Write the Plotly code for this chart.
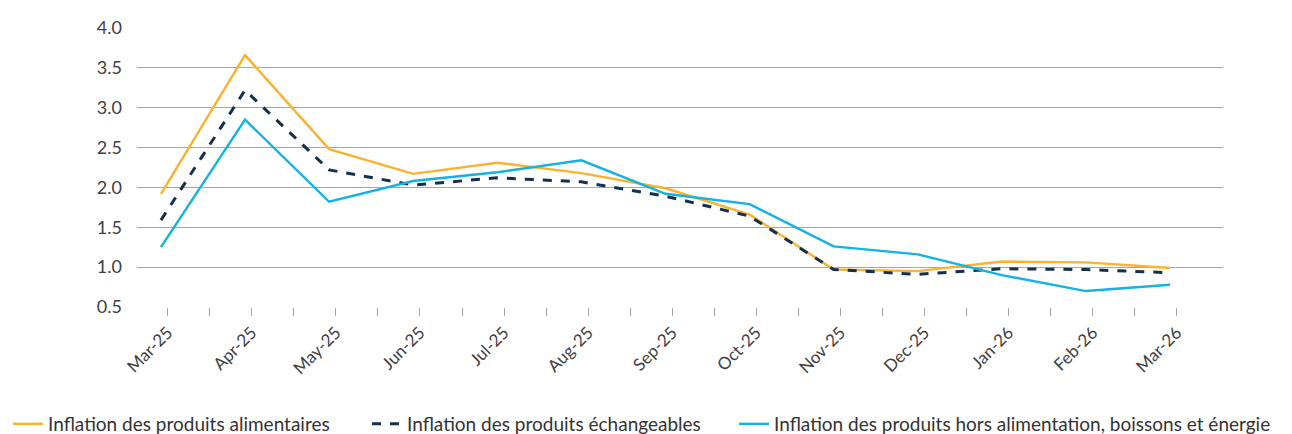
import plotly.graph_objects as go

months = ["Mar-25", "Apr-25", "May-25", "Jun-25", "Jul-25", "Aug-25", "Sep-25",
          "Oct-25", "Nov-25", "Dec-25", "Jan-26", "Feb-26", "Mar-26"]
alimentaires = [1.92, 3.66, 2.48, 2.17, 2.31, 2.18, 1.99, 1.66, 0.97, 0.95, 1.07, 1.06, 0.99]
echangeables = [1.59, 3.22, 2.22, 2.03, 2.12, 2.07, 1.89, 1.64, 0.97, 0.91, 0.98, 0.97, 0.93]
hors_alim = [1.25, 2.85, 1.82, 2.08, 2.19, 2.34, 1.92, 1.79, 1.26, 1.16, 0.90, 0.70, 0.78]

names = ["Inflation des produits alimentaires",
         "Inflation des produits échangeables",
         "Inflation des produits hors alimentation, boissons et énergie"]
yticks = [0.5, 1.0, 1.5, 2.0, 2.5, 3.0, 3.5, 4.0]

FONT = "Lato"
# page body has an 8px margin; figure sized to fill the rest of the window
W, H = 1284, 426
x = list(range(len(months)))
tick_shift = 0.08

fig = go.Figure()
fig.add_trace(go.Scatter(x=x, y=alimentaires, name=names[0], mode="lines",
                         line=dict(color="#FBB22E", width=2.4), legend="legend"))
fig.add_trace(go.Scatter(x=x, y=echangeables, name=names[1], mode="lines",
                         line=dict(color="#13304F", width=3, dash="dash"), legend="legend2"))
fig.add_trace(go.Scatter(x=x, y=hors_alim, name=names[2], mode="lines",
                         line=dict(color="#12B2E2", width=2.4), legend="legend3"))

leg_common = dict(orientation="h", xref="container", yref="container",
                  yanchor="middle", y=1 - 416 / H, xanchor="left",
                  font=dict(family=FONT, size=19, color="#333333"),
                  bgcolor="rgba(0,0,0,0)", itemwidth=30, tracegroupgap=0, visible=True)
fig.update_layout(
    width=W, height=H, showlegend=True,
    margin=dict(l=129, r=69, t=20, b=127, autoexpand=False),
    plot_bgcolor="white", paper_bgcolor="white",
    font=dict(family=FONT, color="#404040"),
    legend=dict(x=0 / W, **leg_common),
    legend2=dict(x=359 / W, **leg_common),
    legend3=dict(x=726 / W, **leg_common),
    xaxis=dict(range=[-0.285, 12.63], showgrid=False, zeroline=False,
               tickmode="array", tickvals=[i + tick_shift for i in x], ticktext=months,
               tickangle=-45, ticks="outside", ticklen=8, tickcolor="#A6A6A6", tickwidth=1,
               tickfont=dict(family=FONT, size=17, color="#404040"),
               showline=False, automargin=False,
               minor=dict(tickmode="array", tickvals=[i + tick_shift - 0.5 for i in x[1:]],
                          ticks="outside", ticklen=8, tickcolor="#A6A6A6", tickwidth=1)),
    yaxis=dict(range=[0.5, 4.0], tickmode="array", tickvals=yticks,
               ticktext=[f"{v:.1f}" for v in yticks],
               showgrid=True, gridcolor="#A6A6A6", gridwidth=1, zeroline=False,
               showline=False, ticks="", ticklabelstandoff=14, automargin=False,
               tickfont=dict(family=FONT, size=18, color="#404040")),
)
fig.write_html("out.html")
